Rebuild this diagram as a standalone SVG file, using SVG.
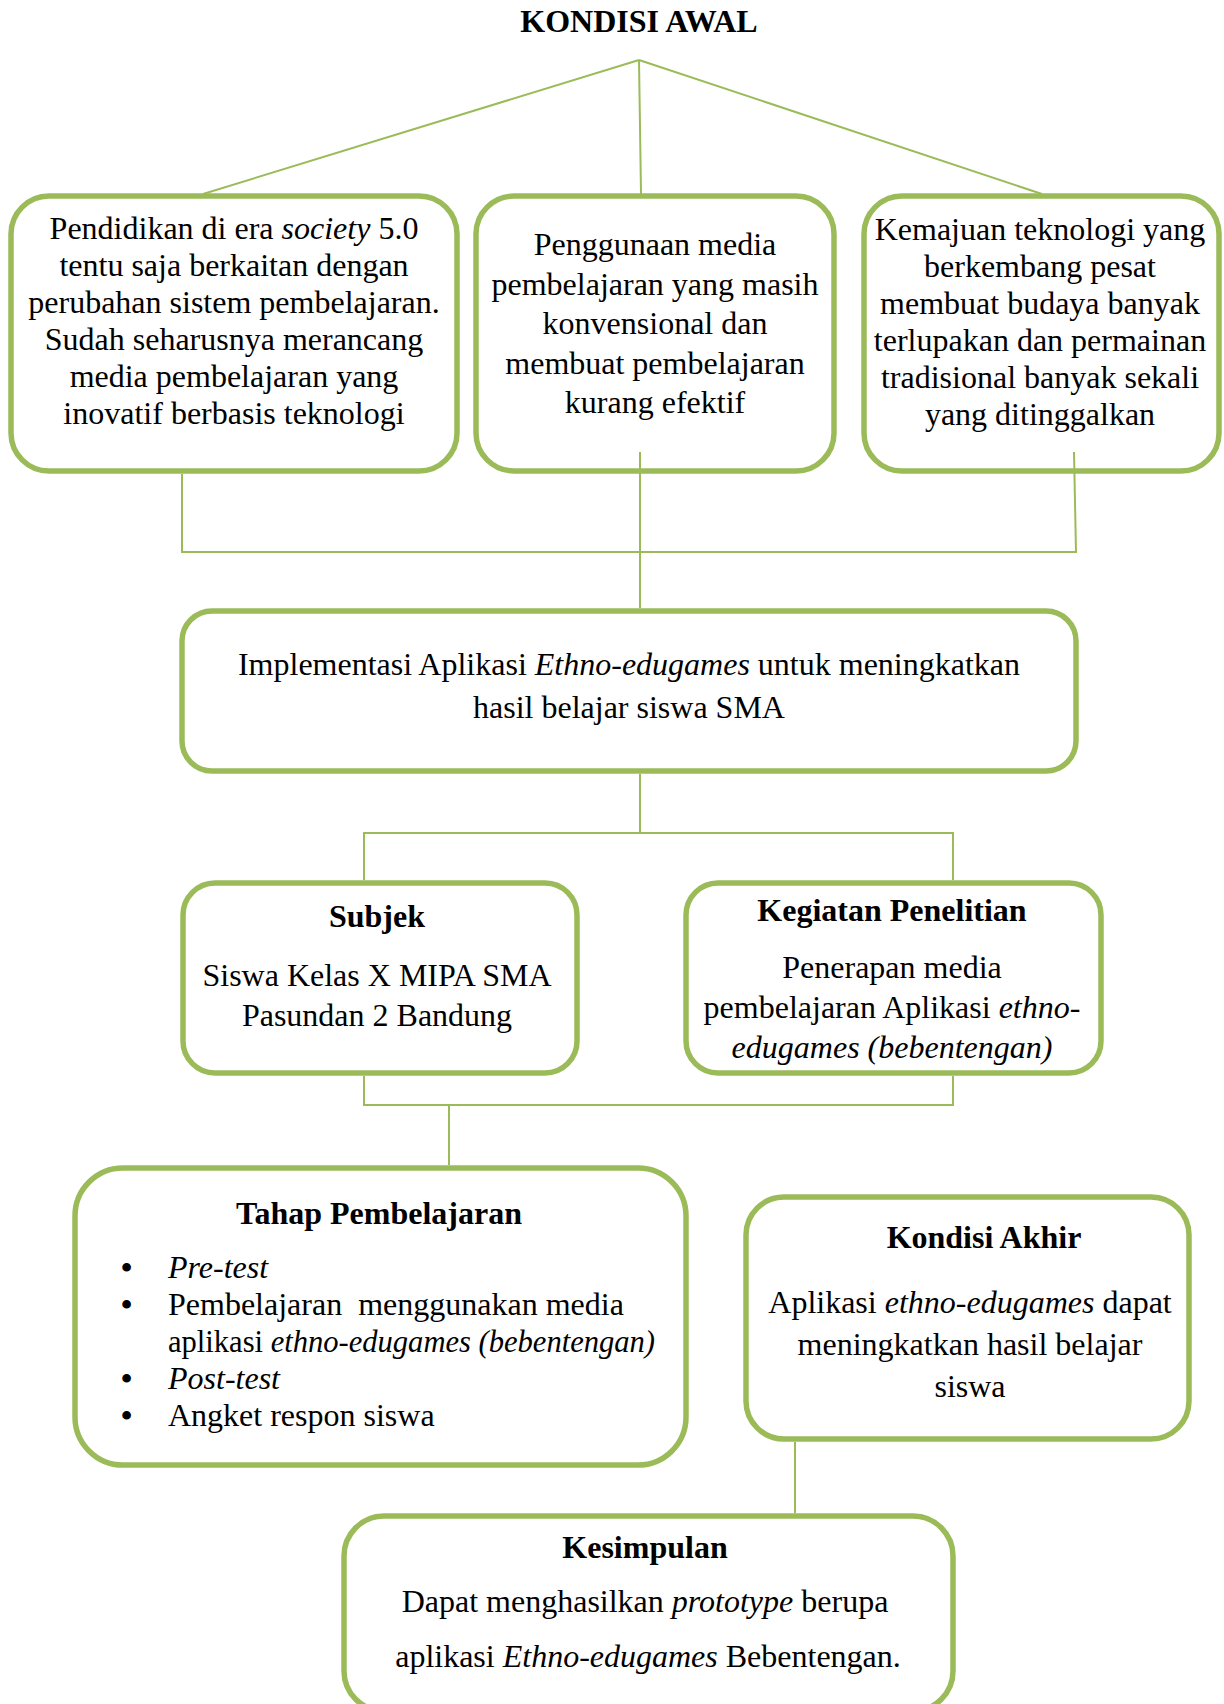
<svg xmlns="http://www.w3.org/2000/svg" width="1224" height="1704" viewBox="0 0 1224 1704">
<style>
.box{fill:#fff;stroke:#9BBB59;stroke-width:5.5}
.ln{fill:none;stroke:#9BBB59;stroke-width:2}
text{font-family:"Liberation Serif","Times New Roman",serif;font-size:32px;fill:#000}
.c{text-anchor:middle}
.b{font-weight:bold}
.i{font-style:italic}
.bul{font-weight:bold}
</style>
<rect width="1224" height="1704" fill="#fff"/>
<g id="title">
<text class="c b" x="639" y="32" font-size="33">KONDISI AWAL</text>
</g>
<g id="box1">
<rect class="box" x="11" y="196" width="446" height="275" rx="38"/>
<text class="c" x="234" y="239">Pendidikan di era <tspan class="i">society</tspan> 5.0</text>
<text class="c" x="234" y="276">tentu saja berkaitan dengan</text>
<text class="c" x="234" y="313">perubahan sistem pembelajaran.</text>
<text class="c" x="234" y="350">Sudah seharusnya merancang</text>
<text class="c" x="234" y="387">media pembelajaran yang</text>
<text class="c" x="234" y="424">inovatif berbasis teknologi</text>
</g>
<g id="box2">
<rect class="box" x="476" y="196" width="358" height="275" rx="38"/>
<text class="c" x="655" y="255">Penggunaan media</text>
<text class="c" x="655" y="295">pembelajaran yang masih</text>
<text class="c" x="655" y="334">konvensional dan</text>
<text class="c" x="655" y="374">membuat pembelajaran</text>
<text class="c" x="655" y="413">kurang efektif</text>
</g>
<g id="box3">
<rect class="box" x="864" y="196" width="355" height="275" rx="38"/>
<text class="c" x="1040" y="240">Kemajuan teknologi yang</text>
<text class="c" x="1040" y="277">berkembang pesat</text>
<text class="c" x="1040" y="314">membuat budaya banyak</text>
<text class="c" x="1040" y="351">terlupakan dan permainan</text>
<text class="c" x="1040" y="388">tradisional banyak sekali</text>
<text class="c" x="1040" y="425">yang ditinggalkan</text>
</g>
<g id="implementasi">
<rect class="box" x="182" y="611" width="894" height="160" rx="30"/>
<text class="c" x="629" y="675">Implementasi Aplikasi <tspan class="i">Ethno-edugames</tspan> untuk meningkatkan</text>
<text class="c" x="629" y="718">hasil belajar siswa SMA</text>
</g>
<g id="subjek">
<rect class="box" x="183" y="883" width="394" height="190" rx="32"/>
<text class="c b" x="377" y="927">Subjek</text>
<text class="c" x="377" y="986">Siswa Kelas X MIPA SMA</text>
<text class="c" x="377" y="1026">Pasundan 2 Bandung</text>
</g>
<g id="kegiatan">
<rect class="box" x="686" y="883" width="415" height="190" rx="32"/>
<text class="c b" x="892" y="921">Kegiatan Penelitian</text>
<text class="c" x="892" y="978">Penerapan media</text>
<text class="c" x="892" y="1018">pembelajaran Aplikasi <tspan class="i">ethno-</tspan></text>
<text class="c i" x="892" y="1058">edugames (bebentengan)</text>
</g>
<g id="tahap">
<rect class="box" x="75" y="1168" width="611" height="297" rx="48"/>
<text class="c b" x="379" y="1224">Tahap Pembelajaran</text>
<text class="bul" x="121" y="1278">•</text><text class="i" x="168" y="1278">Pre-test</text>
<text class="bul" x="121" y="1315">•</text><text x="168" y="1315" xml:space="preserve">Pembelajaran  menggunakan media</text>
<text x="168" y="1352" textLength="487" lengthAdjust="spacingAndGlyphs">aplikasi <tspan class="i">ethno-edugames (bebentengan)</tspan></text>
<text class="bul" x="121" y="1389">•</text><text class="i" x="168" y="1389">Post-test</text>
<text class="bul" x="121" y="1426">•</text><text x="168" y="1426">Angket respon siswa</text>
</g>
<g id="kondisi-akhir">
<rect class="box" x="746" y="1197" width="443" height="242" rx="38"/>
<text class="c b" x="984" y="1248">Kondisi Akhir</text>
<text class="c" x="970" y="1313">Aplikasi <tspan class="i">ethno-edugames</tspan> dapat</text>
<text class="c" x="970" y="1355">meningkatkan hasil belajar</text>
<text class="c" x="970" y="1397">siswa</text>
</g>
<g id="kesimpulan">
<rect class="box" x="344" y="1516" width="609" height="195" rx="40"/>
<text class="c b" x="645" y="1558">Kesimpulan</text>
<text class="c" x="645" y="1612">Dapat menghasilkan <tspan class="i">prototype</tspan> berupa</text>
<text class="c" x="648" y="1667">aplikasi <tspan class="i">Ethno-edugames</tspan> Bebentengan.</text>
</g>
<g id="connectors">
<path class="ln" d="M639,60 L203,194 M639,60 L641,194 M639,60 L1042,194"/>
<path class="ln" d="M182,474 V552 H1076 L1074,452 M640,452 V608"/>
<path class="ln" d="M640,774 V833 M364,880 V833 H953 V880"/>
<path class="ln" d="M364,1076 V1105 H953 V1076 M449,1105 V1165"/>
<path class="ln" d="M795,1442 V1513"/>
</g>
</svg>
